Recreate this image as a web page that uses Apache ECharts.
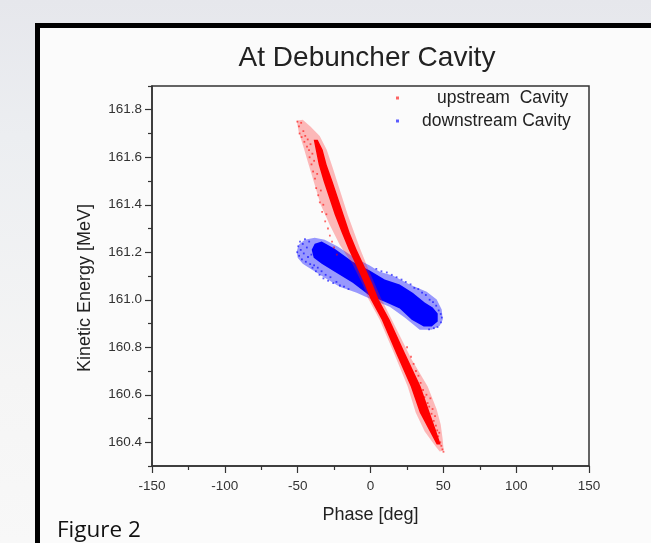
<!DOCTYPE html>
<html><head><meta charset="utf-8">
<script src="https://cdn.jsdelivr.net/npm/echarts@6/dist/echarts.min.js"></script>
<style>
html,body{margin:0;padding:0;width:651px;height:543px;overflow:hidden;
background:linear-gradient(180deg,#e6e7ec 0%,#eceef1 25%,#f5f5f5 70%,#f8f8f8 100%);}
#c{width:651px;height:543px;}
</style></head><body><div id="c"></div>
<script>
// ---- axis ticks ----
const yTickLabels = [160.4, 160.6, 160.8, 161.0, 161.2, 161.4, 161.6, 161.8];
const yMinorTicks = [160.3, 160.5, 160.7, 160.9, 161.1, 161.3, 161.5, 161.7, 161.9];
const legendNames = ['upstream  Cavity', 'downstream Cavity'];

// ---- upstream (red) dense core: left and right edges, top -> bottom [phase, KE] ----
const redCoreLeft = [[-38.99,161.674],[-37.62,161.632],[-35.56,161.568],[-32.13,161.497],[-28.01,161.421],[-24.58,161.358],[-19.77,161.282],[-14.97,161.211],[-9.47,161.139],[-3.98,161.064],[0.14,161.001],[7.69,160.916],[17.30,160.778],[27.60,160.635],[33.78,160.525],[39.96,160.454],[45.45,160.391]];
const redCoreRight = [[-36.25,161.674],[-32.81,161.632],[-30.07,161.568],[-25.95,161.497],[-21.83,161.421],[-18.40,161.358],[-14.28,161.282],[-9.47,161.211],[-3.98,161.139],[1.51,161.064],[5.63,161.001],[13.18,160.916],[23.48,160.778],[34.46,160.635],[40.64,160.525],[44.76,160.454],[48.19,160.391]];
// sparse halo outline of the red cloud
const redHalo = [[-50.66,161.754],[-49.29,161.707],[-45.86,161.640],[-42.43,161.568],[-38.31,161.484],[-34.19,161.400],[-28.01,161.316],[-21.14,161.232],[-12.22,161.148],[-5.35,161.064],[-1.24,161.001],[6.32,160.916],[15.93,160.778],[25.54,160.635],[31.03,160.525],[37.21,160.445],[44.76,160.382],[47.51,160.361],
  [50.25,160.365],[49.57,160.412],[48.19,160.475],[45.45,160.538],[39.27,160.635],[28.28,160.748],[15.24,160.908],[7.00,161.009],[-1.92,161.135],[-7.41,161.219],[-15.65,161.358],[-21.14,161.463],[-25.95,161.556],[-30.07,161.632],[-34.87,161.690],[-41.05,161.728],[-46.54,161.758]];
// scattered red particles
const redDots = [[-50.2,161.75],[-49.1,161.73],[-48.7,161.70],[-47.6,161.745],[-47.3,161.685],[-46.1,161.71],[-45.4,161.665],[-44.8,161.69],[-43.6,161.645],[-43.1,161.675],[-42.2,161.63],[-41.8,161.60],[-41.2,161.655],[-40.5,161.57],[-39.9,161.615],[-39.4,161.54],[-38.7,161.585],[-38.1,161.51],[-37.3,161.47],[-36.6,161.53],[-35.9,161.44],[-34.8,161.41],[-34.1,161.46],[-33.2,161.37],[-32.4,161.40],[-31.1,161.33],[-30.3,161.36],[-29.2,161.30],[-27.9,161.27],[-26.4,161.245],[-25.0,161.22],[-23.1,161.19],
  [25.1,160.80],[27.8,160.76],[29.6,160.73],[31.2,160.70],[32.9,160.68],[34.4,160.65],[36.1,160.62],[37.0,160.59],[38.4,160.60],[39.2,160.565],[40.3,160.55],[41.1,160.585],[41.9,160.52],[42.6,160.54],[43.4,160.49],[44.3,160.51],[44.9,160.47],[45.8,160.45],[46.5,160.425],[47.2,160.44],[47.9,160.40],[48.6,160.385],[49.4,160.37],[50.1,160.36]];

// ---- downstream (blue) dense core: upper and lower edges, left -> right ----
const blueCoreUpper = [[-40.37,161.211],[-38.31,161.236],[-33.50,161.245],[-24.58,161.215],[-12.22,161.160],[-0.55,161.123],[9.75,161.085],[20.05,161.064],[28.97,161.030],[37.21,160.988],[42.70,160.967],[46.14,160.942]];
const blueCoreLower = [[-38.99,161.177],[-33.50,161.152],[-24.58,161.118],[-12.22,161.072],[-0.55,161.017],[9.75,160.992],[20.05,160.963],[28.28,160.916],[36.52,160.887],[42.01,160.887],[46.14,160.908]];
const blueHalo = [[-50.66,161.203],[-49.29,161.232],[-45.17,161.253],[-38.31,161.261],[-31.44,161.253],[-22.52,161.224],[-10.85,161.177],[-0.55,161.144],[6.32,161.118],[15.24,161.102],[26.91,161.064],[38.58,161.034],[45.45,161.001],[48.88,160.959],[49.57,160.916],
  [47.51,160.891],[42.01,160.874],[33.78,160.874],[23.48,160.925],[13.18,160.971],[0.82,161.001],[-9.47,161.030],[-21.14,161.055],[-31.44,161.093],[-40.37,161.127],[-46.54,161.152],[-49.98,161.177]];
const blueDots = [[-50.3,161.20],[-49.6,161.225],[-49.0,161.185],[-48.4,161.245],[-47.9,161.21],[-47.1,161.17],[-46.5,161.235],[-45.8,161.195],[-45.0,161.255],[-44.4,161.16],[-43.7,161.22],[-42.9,161.18],[-42.1,161.245],[-41.4,161.15],[-40.6,161.19],[-39.8,161.135],[-38.7,161.145],[-37.5,161.12],[-36.2,161.135],[-35.0,161.105],[-33.6,161.12],[-32.3,161.09],[-30.8,161.105],[-29.1,161.08],[-27.5,161.095],[-25.6,161.07],[-23.4,161.075],[-21.0,161.06],[-18.2,161.055],[-15.1,161.045],
  [4.0,161.13],[7.5,161.12],[11.2,161.115],[14.6,161.105],[17.9,161.095],[21.3,161.085],[24.2,161.075],[27.5,161.065],[30.1,161.05],[32.8,161.045],[35.4,161.03],[38.0,161.02],[40.6,161.00],[42.9,160.99],[45.1,160.975],[46.8,160.955],[48.2,160.94],[49.0,160.925],[48.4,160.905],[46.0,160.885],[43.5,160.88],[40.2,160.875]];

const FONT = '"Liberation Sans", Arial, sans-serif';

function poly(pts, fill, z) {
  return {
    type: 'custom', silent: true, z: z, xAxisIndex: 0, yAxisIndex: 0,
    data: [[0, 161]],
    renderItem: function (params, api) {
      return { type: 'polygon', shape: { points: pts.map(p => api.coord(p)) }, style: { fill: fill } };
    }
  };
}
const redCore = redCoreLeft.concat(redCoreRight.slice().reverse());
const blueCore = blueCoreUpper.concat(blueCoreLower.slice().reverse());

const chart = echarts.init(document.getElementById('c'), null, { renderer: 'canvas' });
chart.setOption({
  animation: false,
  backgroundColor: 'transparent',
  title: {
    text: 'At Debuncher Cavity', left: 367, top: 44, textAlign: 'center', padding: 0,
    textStyle: { fontFamily: FONT, fontSize: 28, fontWeight: 'normal', color: '#222' }
  },
  graphic: [
    { type: 'rect', z: -100, silent: true, shape: { x: 37.5, y: 25.5, width: 700, height: 600 },
      style: { fill: '#fbfbfb', stroke: '#000', lineWidth: 5 } },
    { type: 'text', left: 57, top: 519, silent: true,
      style: { text: 'Figure 2', font: '22.5px "Open Sans", sans-serif', fill: '#111' } }
  ],
  legend: [
    { data: [legendNames[0]], left: 396, top: 89, padding: 0, itemWidth: 3, itemHeight: 3, icon: 'rect', selectedMode: false,
      textStyle: { fontFamily: FONT, fontSize: 17.5, color: '#222', padding: [0, 0, 0, 33] } },
    { data: [legendNames[1]], left: 396, top: 112, padding: 0, itemWidth: 3, itemHeight: 3, icon: 'rect', selectedMode: false,
      textStyle: { fontFamily: FONT, fontSize: 17.5, color: '#222', padding: [0, 0, 0, 18] } }
  ],
  grid: { left: 152, right: 62, top: 86, bottom: 77, show: true, borderColor: '#333', borderWidth: 1.5, backgroundColor: 'transparent' },
  xAxis: {
    type: 'value', min: -150, max: 150, interval: 50,
    name: 'Phase [deg]', nameLocation: 'middle', nameGap: 40,
    nameTextStyle: { fontFamily: FONT, fontSize: 18, color: '#222' },
    axisLine: { onZero: false, lineStyle: { color: '#333', width: 1.5 } },
    axisTick: { length: 7, lineStyle: { color: '#333', width: 1.2 } },
    minorTick: { show: true, splitNumber: 2, length: 4, lineStyle: { color: '#333', width: 1.2 } },
    axisLabel: { margin: 13, fontFamily: FONT, fontSize: 13.5, color: '#333' },
    splitLine: { show: false }
  },
  yAxis: [
    {
      type: 'value', min: 160.3, max: 161.9, position: 'left',
      name: 'Kinetic Energy [MeV]', nameLocation: 'middle', nameGap: 58, nameRotate: 90,
      nameTextStyle: { fontFamily: FONT, fontSize: 18, color: '#222', padding: [0, 24, 0, 0] },
      axisLine: { show: true, onZero: false, lineStyle: { color: '#333', width: 1.5 } },
      axisTick: { show: true, length: 7, customValues: yTickLabels, lineStyle: { color: '#333', width: 1.2 } },
      axisLabel: { margin: 10, customValues: yTickLabels, fontFamily: FONT, fontSize: 13.5, color: '#333',
        formatter: v => Number(v).toFixed(1) },
      splitLine: { show: false }
    },
    {
      type: 'value', min: 160.3, max: 161.9, position: 'left',
      axisLine: { show: false, onZero: false },
      axisTick: { show: true, length: 4, customValues: yMinorTicks, lineStyle: { color: '#333', width: 1.2 } },
      axisLabel: { show: false },
      splitLine: { show: false }
    }
  ],
  series: [
    poly(blueHalo, 'rgba(30,30,255,0.45)', 2),
    { type: 'scatter', name: legendNames[1], xAxisIndex: 0, yAxisIndex: 0, data: blueDots, symbol: 'rect', symbolSize: 1.8,
      itemStyle: { color: 'rgba(0,0,255,0.8)' }, z: 3, silent: true },
    poly(blueCore, '#0000ff', 4),
    poly(redHalo, 'rgba(255,30,30,0.30)', 5),
    { type: 'scatter', name: legendNames[0], xAxisIndex: 0, yAxisIndex: 0, data: redDots, symbol: 'rect', symbolSize: 1.8,
      itemStyle: { color: 'rgba(255,0,0,0.75)' }, z: 6, silent: true },
    poly(redCore, '#ff0000', 7)
  ]
});
</script></body></html>
